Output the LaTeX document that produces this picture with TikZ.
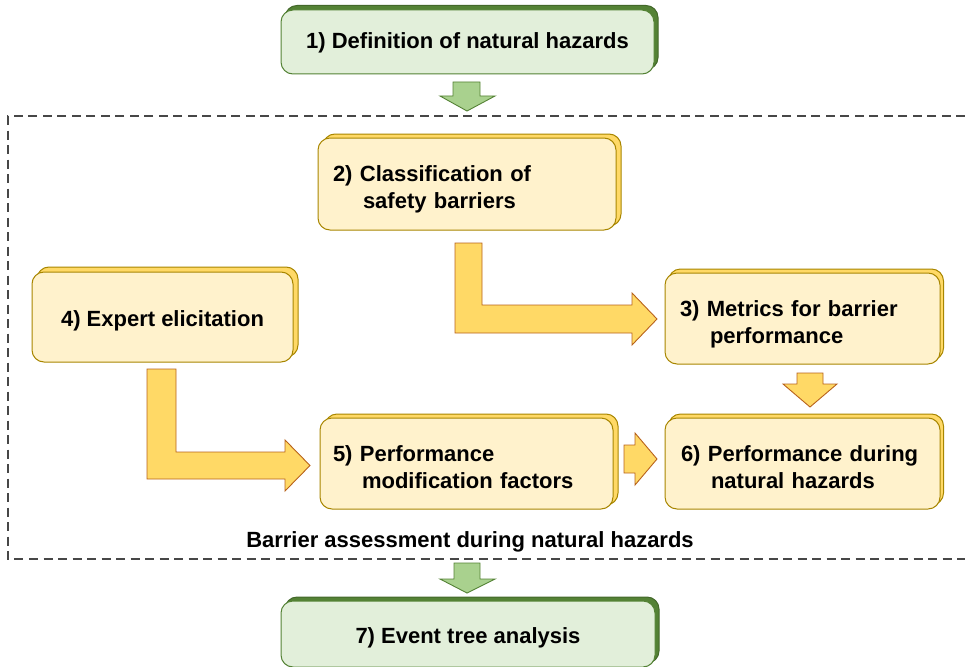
\documentclass[tikz,border=0pt]{standalone}
\usepackage{fontspec}
\setmainfont{Liberation Sans}
\definecolor{gfill}{HTML}{E2EFDA}
\definecolor{gdark}{HTML}{548235}
\definecolor{garrow}{HTML}{A9D18E}
\definecolor{yfill}{HTML}{FFF2CC}
\definecolor{yback}{HTML}{FFD966}
\definecolor{ydraw}{HTML}{A88600}
\definecolor{adraw}{HTML}{B8621B}
\definecolor{dashc}{HTML}{474747}
\tikzset{
  boxfont/.style={font=\fontsize{22}{27}\selectfont\bfseries},
  boxtext/.style={boxfont, inner sep=0pt},
  yfront/.style={draw=ydraw, fill=yfill, rounded corners=12pt, line width=1pt},
  ybackbox/.style={draw=ydraw, fill=yback, rounded corners=12pt, line width=1pt},
  gfront/.style={draw=gdark, fill=gfill, rounded corners=12pt, line width=1pt},
  gbackbox/.style={draw=gdark!80!black, fill=gdark, rounded corners=12pt, line width=1pt},
  yarrow/.style={draw=adraw, fill=yback, line width=0.9pt, line join=miter},
  garrowstyle/.style={draw=gdark, fill=garrow, line width=0.9pt, line join=miter},
  dashframe/.style={draw=dashc, line width=1.4pt, dash pattern=on 9pt off 5.5pt},
}
\begin{document}
\begin{tikzpicture}[x=1pt,y=-1pt]
\useasboundingbox (0,0) rectangle (965,666);
% ---------- dashed frame
\coordinate (fr1) at (965,116);
\coordinate (fr2) at (8,116);
\coordinate (fr3) at (8,559);
\coordinate (fr4) at (965,559);
\draw[dashframe] (fr1) -- (fr2) -- (fr3) -- (fr4);
\node[boxtext, anchor=center] (lbl) at (470,542) {Barrier assessment during natural hazards};
% ---------- box 1
\node[gbackbox, minimum width=373pt, minimum height=64pt] (b1s) at (471.5,37.5) {};
\node[gfront, minimum width=373pt, minimum height=64pt] (b1) at (467.5,42) {};
\node[boxtext] (b1t) at ([yshift=-1pt]b1.center) {1) Definition of natural hazards};
% ---------- box 7
\node[gbackbox, minimum width=374pt, minimum height=66pt] (b7s) at (472,630) {};
\node[gfront, minimum width=374pt, minimum height=66pt] (b7) at (468,634) {};
\node[boxtext] (b7t) at ([yshift=-4pt]b7.center) {7) Event tree analysis};
% ---------- box 2
\node[ybackbox, minimum width=298pt, minimum height=92pt] (b2s) at (472,180) {};
\node[yfront, minimum width=298pt, minimum height=92pt] (b2) at (467,184) {};
\node[boxtext, text width=268pt, align=left] (b2t) at ([yshift=-5pt]b2.center) {2) Classification of\\\hspace*{30pt}safety barriers};
% ---------- box 3
\node[ybackbox, minimum width=275pt, minimum height=91pt] (b3s) at (806,314.5) {};
\node[yfront, minimum width=275pt, minimum height=91pt] (b3) at (802.5,318.5) {};
\node[boxtext, text width=245pt, align=left] (b3t) at ([yshift=-5.5pt]b3.center) {3) Metrics for barrier\\\hspace*{30pt}performance};
% ---------- box 4
\node[ybackbox, minimum width=261pt, minimum height=90pt] (b4s) at (167.5,312) {};
\node[yfront, minimum width=261pt, minimum height=90pt] (b4) at (162.5,317) {};
\node[boxtext] (b4t) at ([yshift=-4pt]b4.center) {4) Expert elicitation};
% ---------- box 5
\node[ybackbox, minimum width=293pt, minimum height=91pt] (b5s) at (471.5,459.5) {};
\node[yfront, minimum width=293pt, minimum height=91pt] (b5) at (466.5,463.5) {};
\node[boxtext, text width=267pt, align=left] (b5t) at ([yshift=-4pt]b5.center) {5) Performance\\\hspace*{29pt}modification factors};
% ---------- box 6
\node[ybackbox, minimum width=275pt, minimum height=91pt] (b6s) at (806,459.5) {};
\node[yfront, minimum width=275pt, minimum height=91pt] (b6) at (802.5,463.5) {};
\node[boxtext, text width=243pt, align=left] (b6t) at ([yshift=-4pt]b6.center) {6) Performance during\\\hspace*{30pt}natural hazards};
% ---------- green arrows
\draw[garrowstyle] (453,82) -- (480,82) -- (480,96) -- (495,96) -- (467,111) -- (440,96) -- (453,96) -- cycle;
\draw[garrowstyle] (454,563) -- (480,563) -- (480,579) -- (495,579) -- (467,593) -- (440,579) -- (454,579) -- cycle;
% ---------- elbow arrow 2 -> 3
\draw[yarrow] (455,243) -- (482,243) -- (482,305) -- (632,305) -- (632,293) -- (657,319) -- (632,345) -- (632,333) -- (455,333) -- cycle;
% ---------- elbow arrow 4 -> 5
\draw[yarrow] (147,369) -- (176,369) -- (176,452) -- (285,452) -- (285,440) -- (310,465.5) -- (285,491) -- (285,479) -- (147,479) -- cycle;
% ---------- arrow 5 -> 6
\draw[yarrow] (624,445) -- (635,445) -- (635,433) -- (657,459) -- (635,485) -- (635,473) -- (624,473) -- cycle;
% ---------- arrow 3 -> 6
\draw[yarrow] (797,373) -- (823,373) -- (823,384) -- (837,384) -- (810,407) -- (783,384) -- (797,384) -- cycle;
\end{tikzpicture}
\end{document}
